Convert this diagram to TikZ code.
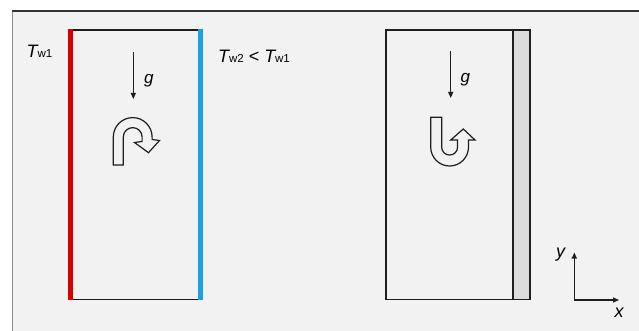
\documentclass[tikz,border=0pt]{standalone}
\usepackage{fontspec}
\setmainfont{Liberation Sans}
\usetikzlibrary{arrows.meta}

\definecolor{panelbg}{HTML}{F2F2F2}
\definecolor{framedark}{HTML}{333333}
\definecolor{framegray}{HTML}{8C8C8C}
\definecolor{hotred}{HTML}{D60000}
\definecolor{coldblue}{HTML}{1BA1E2}
\definecolor{solidgray}{HTML}{DCDCDC}
\definecolor{inkline}{HTML}{1E1E1E}

% wall temperature symbol with its upright index
\newcommand{\walltemp}[1]{\textit{T}\kern-1.2pt{\fontsize{11.5}{12}\selectfont #1}}

\tikzset{
  lbl/.style={inner sep=0pt, anchor=base west, font=\fontsize{18}{18}\selectfont},
  glbl/.style={inner sep=0pt, anchor=base west, font=\fontsize{17}{17}\selectfont\itshape},
  wall/.style={draw=inkline, line width=1.3pt},
  vecarrow/.style={draw=inkline, line width=1.2pt, -{Triangle[length=6pt, width=5pt]}},
  uturn/.style={draw=inkline, line width=1.2pt, fill=panelbg, line join=miter},
}

\begin{document}
\begin{tikzpicture}[x=1pt, y=-1pt]
\useasboundingbox (0,0) rectangle (639,331);

% page and frame
\fill[white] (0,0) rectangle (639,331);
\fill[panelbg] (12.5,11) rectangle (639,331);
\draw[framegray, line width=1.5pt] (12.5,331) -- (12.5,11.7);
\draw[framedark, line width=1.5pt] (11.8,11) -- (639,11);

% ---- left cavity: heated and cooled side walls ----
\draw[wall] (72,30) rectangle (199,299.3);
\fill[hotred] (67.7,29.4) rectangle (72.6,299.9);
\fill[coldblue] (198.3,29.4) rectangle (202.5,299.9);

\node[lbl] (tw1) at (26.5,58) {\walltemp{w1}};
\node[lbl] (tw2) at (218,62.5) {\walltemp{w2} < \walltemp{w1}};

\coordinate (gA1) at (133.3,52);
\coordinate (gB1) at (133.3,99);
\draw[vecarrow] (gA1) -- (gB1);
\node[glbl] (g1) at (143.8,84) {g};

% clockwise turning flow
\draw[uturn] (113.3,165) -- (113.3,137)
  arc[start angle=180, end angle=360, radius=19.4]
  -- (152.1,139.5) -- (159.5,140.5) -- (148.5,152.7) -- (134.5,142.5)
  -- (142.1,141.5) -- (142.1,137)
  arc[start angle=0, end angle=-180, radius=9.4]
  -- (123.3,165) -- cycle;

% ---- right cavity with solid wall ----
\fill[solidgray] (512.7,30) rectangle (530,299.3);
\draw[wall] (386,30) rectangle (530,299.3);
\draw[inkline, line width=2.2pt] (512.7,30) -- (512.7,299.3);

\coordinate (gA2) at (450.7,51);
\coordinate (gB2) at (450.7,98);
\draw[vecarrow] (gA2) -- (gB2);
\node[glbl] (g2) at (460.5,82.5) {g};

% counter-clockwise turning flow
\draw[uturn] (430.7,117.3) -- (430.7,147.1)
  arc[start angle=180, end angle=0, radius=18.9]
  -- (468.5,140) -- (475,140) -- (463.3,129) -- (450.7,140)
  -- (457.55,140) -- (457.55,147.1)
  arc[start angle=0, end angle=180, radius=7.95]
  -- (441.65,117.3) -- cycle;

% ---- coordinate axes ----
\coordinate (ax0) at (574.3,300);
\coordinate (axy) at (574.3,252.5);
\coordinate (axx) at (619,300);
\draw[vecarrow] (ax0) -- (axy);
\draw[vecarrow] (ax0) -- (axx);
\node[glbl, font=\fontsize{18}{18}\selectfont\itshape] (ylbl) at (556,257.6) {y};
\node[glbl, font=\fontsize{18}{18}\selectfont\itshape] (xlbl) at (614.5,317.3) {x};
\end{tikzpicture}
\end{document}
